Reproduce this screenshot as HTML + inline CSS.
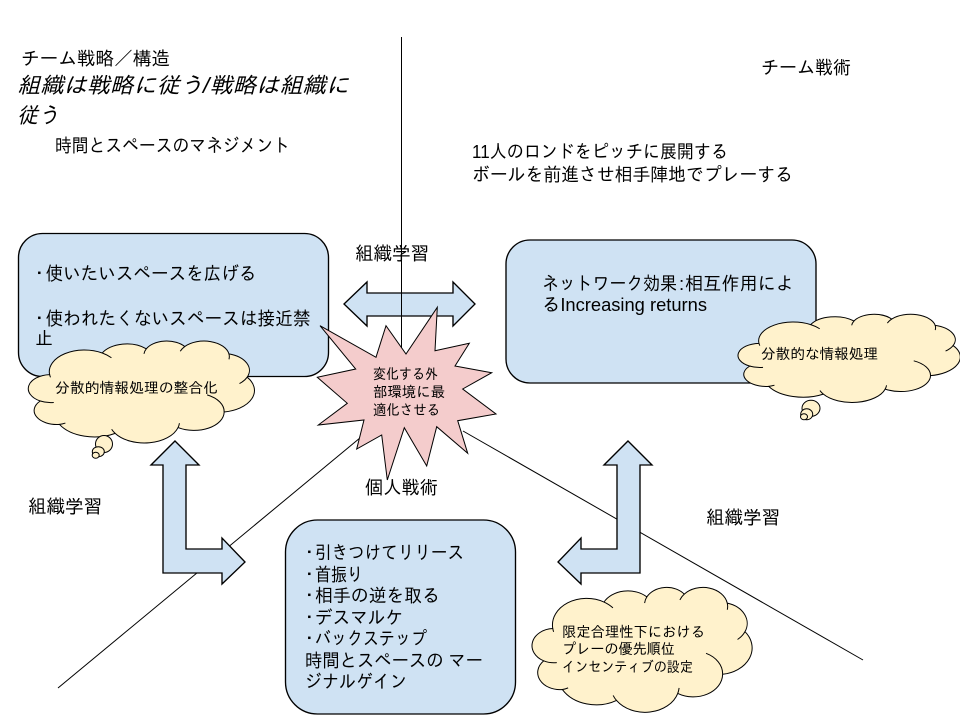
<!DOCTYPE html>
<html lang="ja"><head><meta charset="utf-8"><title>図</title>
<style>
html,body{margin:0;padding:0;background:#fff}
svg{display:block}
text{font-family:"Liberation Sans","IPAGothic",sans-serif;fill:#000}
.a{font-size:18.67px}.s{font-size:14.67px}.i{font-size:22px;font-style:italic}
.k{fill:#fff2cc;stroke:#000;stroke-width:1}
.b{fill:#cfe2f3;stroke:#000;stroke-width:1.35}
</style></head><body>
<svg width="960" height="720" viewBox="0 0 960 720" xmlns="http://www.w3.org/2000/svg">
<defs>
<g id="cl">
<path vector-effect="non-scaling-stroke" d="M3900 14370A6753 9190 0 0 1 14005 5200A5333 7267 0 0 1 22455 3429A4365 5945 0 0 1 29832 2478A4857 6595 0 0 1 38317 5573A5333 7273 0 0 1 41817 15459A6775 9220 0 0 1 37402 30205A5785 7867 0 0 1 28551 36813A6752 9215 0 0 1 16476 39265A7720 10543 0 0 1 5798 35473A4360 5918 0 0 1 2105 25551A4345 5945 0 0 1 3900 14370Z"/>
<path vector-effect="non-scaling-stroke" fill="none" d="M4693 26177A4345 5945 0 0 1 2105 25551M6928 34899A4360 5918 0 0 1 5798 35473M16476 39265A6752 9215 0 0 1 15807 37519M28815 34945A6752 9215 0 0 1 28551 36813M34129 22954A5785 7867 0 0 1 37402 30205M41817 15459A5333 7273 0 0 1 40344 18162M38317 5573A4857 6595 0 0 1 38320 7888M28973 4487A4857 6595 0 0 1 29832 2478M22013 5565A4365 5945 0 0 1 22455 3429M14005 5200A6753 9190 0 0 1 15765 7223M4069 15509A6753 9190 0 0 1 3900 14370"/>
</g>
</defs>
<line x1="58" y1="688" x2="372" y2="428" stroke="#000"/>
<line x1="463" y1="431" x2="863" y2="660" stroke="#000"/>
<rect class="b" x="18.5" y="233.5" width="310" height="143" rx="24"/>
<rect class="b" x="506" y="240" width="310" height="143" rx="24"/>
<rect class="b" x="285.5" y="520" width="230" height="194" rx="32"/>
<path class="b" d="M344 304L367 282V293H453V282L475 304L453 326V316H367V326Z"/>
<line x1="401.5" y1="37" x2="401.5" y2="360" stroke="#000"/>
<path class="b" d="M175 441L199 465H186V549H222V538L245 562L222 584V573H163V465H151Z"/>
<path class="b" d="M628 441L652 465H640V573H581V584L558 562L581 538V549H617V465H604Z"/>
<path fill="#f4cccc" stroke="#000" d="M437.3 307.3L435 350.7L469.3 343.3L455 366L491.7 372.7L462.7 389L496 414L457.7 420.7L467.7 453.3L436.7 426.7L426.7 466L404.3 427.7L387.3 480L381.7 435L356.7 449L364 420L318.3 425L347.3 403.3L317.3 377.3L355.7 369L320 325.7L376 357.3L386 325.7L406 354Z"/>
<g class="k">
<use href="#cl" transform="translate(29.3 340.7) scale(.00521 .00236)"/>
<ellipse cx="104" cy="444" rx="8.5" ry="8.5"/><ellipse cx="98.3" cy="451.7" rx="6" ry="5"/><ellipse cx="95.7" cy="455.3" rx="3.5" ry="3"/>
<use href="#cl" transform="translate(739 314) scale(.00512 .00204)"/>
<ellipse cx="811" cy="408.3" rx="9" ry="8"/><ellipse cx="806.7" cy="414.3" rx="6" ry="5.5"/><ellipse cx="804" cy="416.7" rx="3.5" ry="3"/>
<use href="#cl" transform="translate(533 587) scale(.00507 .00289)"/>
</g>
<text class="a" x="21" y="65" textLength="149" lengthAdjust="spacingAndGlyphs">チーム戦略／構造</text>
<text class="i" x="17" y="93" textLength="332" lengthAdjust="spacingAndGlyphs">組織は戦略に従う/戦略は組織に</text>
<text class="i" x="17" y="123" textLength="42" lengthAdjust="spacingAndGlyphs">従う</text>
<text class="a" x="55" y="152" textLength="235" lengthAdjust="spacingAndGlyphs">時間とスペースのマネジメント</text>
<text class="a" x="761" y="74" textLength="90" lengthAdjust="spacingAndGlyphs">チーム戦術</text>
<text class="a" x="472" y="158" textLength="256" lengthAdjust="spacingAndGlyphs">11人のロンドをピッチに展開する</text>
<text class="a" x="472" y="181" textLength="321" lengthAdjust="spacingAndGlyphs">ボールを前進させ相手陣地でプレーする</text>
<text class="a" x="355" y="260" textLength="74" lengthAdjust="spacingAndGlyphs">組織学習</text>
<text class="a" x="30" y="280">・</text>
<text class="a" x="45.5" y="280" textLength="211" lengthAdjust="spacingAndGlyphs">使いたいスペースを広げる</text>
<text class="a" x="30" y="325">・</text>
<text class="a" x="45.5" y="325" textLength="265" lengthAdjust="spacingAndGlyphs">使われたくないスペースは接近禁</text>
<text class="a" x="35" y="345" textLength="18" lengthAdjust="spacingAndGlyphs">止</text>
<text class="s" x="55" y="393" textLength="163" lengthAdjust="spacingAndGlyphs">分散的情報処理の整合化</text>
<text class="s" x="373" y="379" textLength="65" lengthAdjust="spacingAndGlyphs">変化する外</text>
<text class="s" x="373" y="397" textLength="72" lengthAdjust="spacingAndGlyphs">部環境に最</text>
<text class="s" x="373" y="415" textLength="67" lengthAdjust="spacingAndGlyphs">適化させる</text>
<text class="a" x="365" y="494" textLength="73" lengthAdjust="spacingAndGlyphs">個人戦術</text>
<text class="a" x="542" y="290" textLength="135" lengthAdjust="spacingAndGlyphs">ネットワーク効果</text>
<text class="a" x="679" y="290">:</text>
<text class="a" x="685" y="290" textLength="109" lengthAdjust="spacingAndGlyphs">相互作用によ</text>
<text class="a" x="542" y="311" textLength="165" lengthAdjust="spacingAndGlyphs">るIncreasing returns</text>
<text class="s" x="761" y="359" textLength="117" lengthAdjust="spacingAndGlyphs">分散的な情報処理</text>
<text class="a" x="28" y="513" textLength="74" lengthAdjust="spacingAndGlyphs">組織学習</text>
<text class="a" x="706" y="524" textLength="74" lengthAdjust="spacingAndGlyphs">組織学習</text>
<text class="a" x="300" y="559">・</text>
<text class="a" x="315" y="559" textLength="149" lengthAdjust="spacingAndGlyphs">引きつけてリリース</text>
<text class="a" x="300" y="581">・</text>
<text class="a" x="315" y="581" textLength="48" lengthAdjust="spacingAndGlyphs">首振り</text>
<text class="a" x="300" y="602">・</text>
<text class="a" x="315" y="602" textLength="125" lengthAdjust="spacingAndGlyphs">相手の逆を取る</text>
<text class="a" x="300" y="624">・</text>
<text class="a" x="315" y="624" textLength="88" lengthAdjust="spacingAndGlyphs">デスマルケ</text>
<text class="a" x="300" y="645">・</text>
<text class="a" x="315" y="645" textLength="112" lengthAdjust="spacingAndGlyphs">バックステップ</text>
<text class="a" x="305" y="667" textLength="178" lengthAdjust="spacingAndGlyphs">時間とスペースの マー</text>
<text class="a" x="305" y="688" textLength="102" lengthAdjust="spacingAndGlyphs">ジナルゲイン</text>
<text class="s" x="562" y="637" textLength="143" lengthAdjust="spacingAndGlyphs">限定合理性下における</text>
<text class="s" x="562" y="654" textLength="113" lengthAdjust="spacingAndGlyphs">プレーの優先順位</text>
<text class="s" x="562" y="672" textLength="131" lengthAdjust="spacingAndGlyphs">インセンティブの設定</text>
</svg>
</body></html>
